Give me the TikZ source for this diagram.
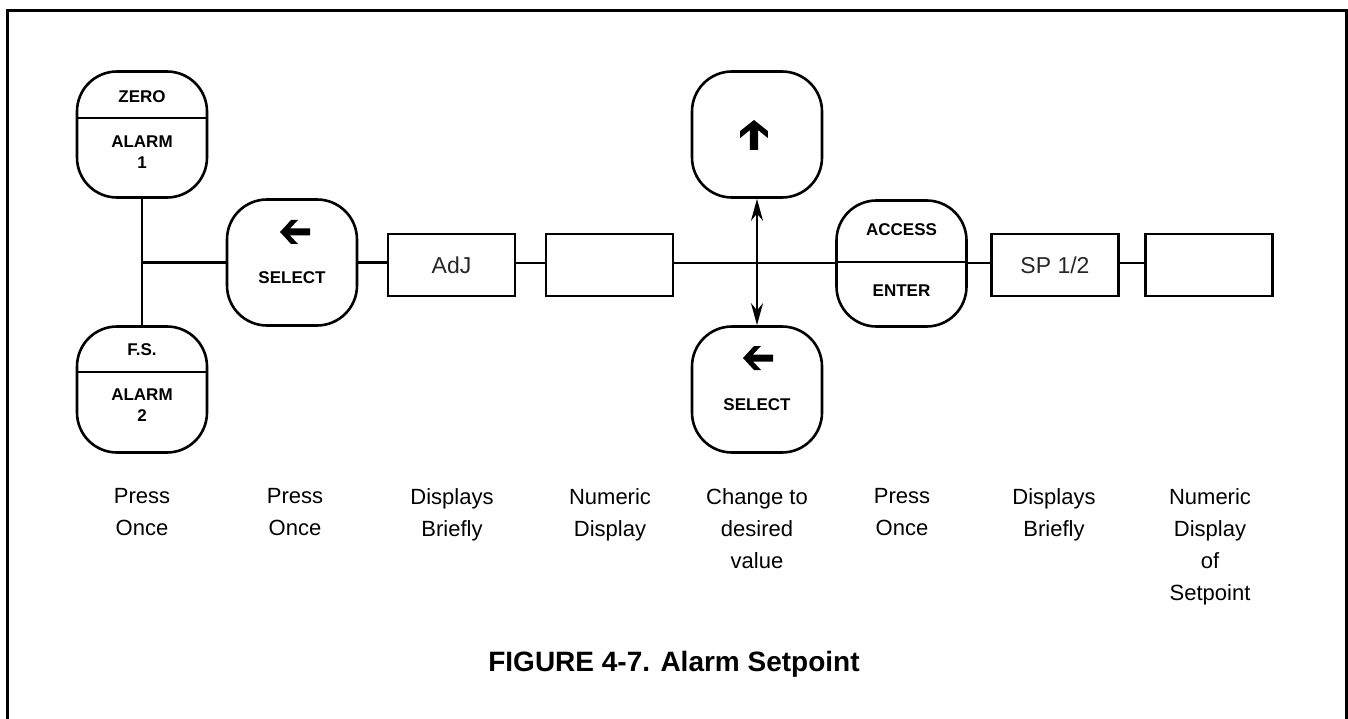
\documentclass[tikz,border=0pt]{standalone}
\usepackage{fontspec}
\setmainfont{Liberation Sans}
\usetikzlibrary{arrows.meta}
\tikzset{
  btn/.style={draw, line width=2.6pt, rounded corners=40pt, minimum width=130pt, minimum height=126pt, inner sep=0pt},
  disp/.style={draw, line width=2.6pt, minimum width=127pt, minimum height=62pt, inner sep=0pt},
  conn/.style={line width=2.6pt},
  blab/.style={font=\bfseries\fontsize{17}{21}\selectfont, inner sep=0pt, align=center},
  seg/.style={font=\fontsize{23}{26}\selectfont, inner sep=0pt, text=black!85},
  lab/.style={font=\fontsize{22}{32}\selectfont, inner sep=0pt, align=center, anchor=north},
  fatarrow/.pic={\fill (-15,0) -- (-4,-12) -- (3,-12) -- (-5,-3.5) -- (15,-3.5) -- (15,3.5) -- (-5,3.5) -- (3,12) -- (-4,12) -- cycle;}
}
\begin{document}
\begin{tikzpicture}[x=1pt,y=-1pt]
\useasboundingbox (0,0) rectangle (1348,719);
% frame
\draw[line width=3pt] (7.5,740) -- (7.5,10.5) -- (1346.5,10.5) -- (1346.5,740);

% buttons
\node[btn] (zero) at (142,134.5) {};
\draw[line width=2.6pt] (77,118) -- (207,118);
\node[blab] (zerot) at (142,97) {ZERO};
\node[blab] (al1) at (142,152) {ALARM\\1};

\node[btn] (fs) at (142,389.5) {};
\draw[line width=2.6pt] (77,372) -- (207,372);
\node[blab] (fst) at (142,350) {F.S.};
\node[blab] (al2) at (142,405) {ALARM\\2};

\draw[conn] (zero.south) -- (fs.north);

\node[btn] (sel1) at (292,262.5) {};
\pic at (295,232) {fatarrow};
\node[blab] (sel1t) at (292,278) {SELECT};

\node[disp] (adj) at (451.5,265) {};
\node[seg] (adjt) at (451.5,265) {AdJ};

\node[disp] (num1) at (609.5,265) {};

\node[btn] (up) at (757,134.5) {};
\pic[rotate=-90, yscale=1.15] at (754,135) {fatarrow};

\node[btn] (sel2) at (757,389.5) {};
\pic at (758,358) {fatarrow};
\node[blab] (sel2t) at (757,405) {SELECT};

\node[btn] (acc) at (901.5,263.5) {};
\draw[line width=2.6pt] (837,262) -- (966,262);
\node[blab] (acct) at (901.5,230) {ACCESS};
\node[blab] (entt) at (901.5,291) {ENTER};

\node[disp] (sp) at (1055,265) {};
\node[seg] (spt) at (1055,265) {SP 1/2};

\node[disp] (num2) at (1209,265) {};

% connectors
\draw[conn] (zero.south |- sel1.west) -- (sel1.west);
\draw[conn] (sel1.east) -- (adj.west |- sel1.east);
\draw[conn] (adj.east |- 0,263) -- (num1.west |- 0,263);
\draw[conn] (num1.east |- 0,263) -- (acc.west |- 0,263);
\draw[conn] (acc.east |- 0,263) -- (sp.west |- 0,263);
\draw[conn] (sp.east |- 0,263) -- (num2.west |- 0,263);
\draw[conn, {Stealth[length=22pt,width=12pt]}-{Stealth[length=22pt,width=12pt]}] (up.south) -- (sel2.north);

% labels
\node[lab] (l1) at (142,488) {Press\\Once};
\node[lab] (l2) at (295,488) {Press\\Once};
\node[lab] (l3) at (452,488) {Displays\\Briefly};
\node[lab] (l4) at (610,488) {Numeric\\Display};
\node[lab] (l5) at (757,488) {Change to\\desired\\value};
\node[lab] (l6) at (902,488) {Press\\Once};
\node[lab] (l7) at (1054,488) {Displays\\Briefly};
\node[lab] (l8) at (1210,488) {Numeric\\Display\\of\\Setpoint};

\node[font=\bfseries\fontsize{28}{32}\selectfont, inner sep=0pt] (cap) at (674,664) {FIGURE 4-7. Alarm Setpoint};
\end{tikzpicture}
\end{document}
